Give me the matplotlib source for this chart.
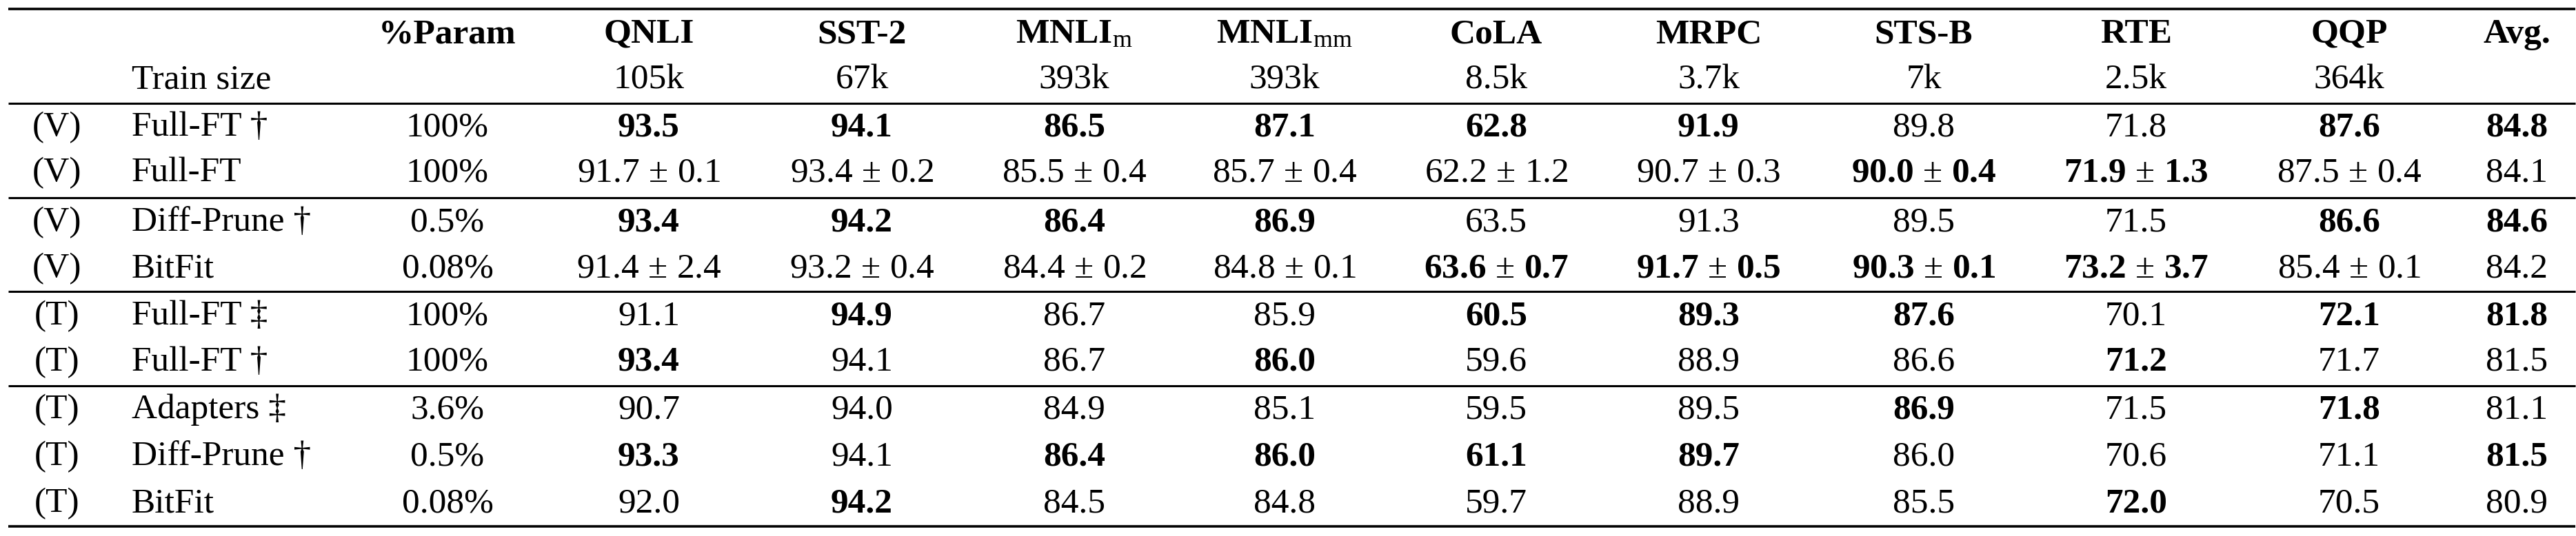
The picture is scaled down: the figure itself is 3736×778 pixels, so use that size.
import matplotlib
matplotlib.use("Agg")
import matplotlib.pyplot as plt

### data
tasks = ["QNLI", "SST-2", r"$\mathbf{MNLI}_{\mathrm{m}}$", r"$\mathbf{MNLI}_{\mathrm{mm}}$",
         "CoLA", "MRPC", "STS-B", "RTE", "QQP"]
train_sizes = ["105k", "67k", "393k", "393k", "8.5k", "3.7k", "7k", "2.5k", "364k"]

setting = ["(V)", "(V)", "(V)", "(V)", "(T)", "(T)", "(T)", "(T)", "(T)"]
methods = ["Full-FT \u2020", "Full-FT", "Diff-Prune \u2020", "BitFit",
           "Full-FT \u2021", "Full-FT \u2020", "Adapters \u2021", "Diff-Prune \u2020", "BitFit"]
params = ["100%", "100%", "0.5%", "0.08%", "100%", "100%", "3.6%", "0.5%", "0.08%"]

scores = [
    [93.5, 94.1, 86.5, 87.1, 62.8, 91.9, 89.8, 71.8, 87.6],
    [91.7, 93.4, 85.5, 85.7, 62.2, 90.7, 90.0, 71.9, 87.5],
    [93.4, 94.2, 86.4, 86.9, 63.5, 91.3, 89.5, 71.5, 86.6],
    [91.4, 93.2, 84.4, 84.8, 63.6, 91.7, 90.3, 73.2, 85.4],
    [91.1, 94.9, 86.7, 85.9, 60.5, 89.3, 87.6, 70.1, 72.1],
    [93.4, 94.1, 86.7, 86.0, 59.6, 88.9, 86.6, 71.2, 71.7],
    [90.7, 94.0, 84.9, 85.1, 59.5, 89.5, 86.9, 71.5, 71.8],
    [93.3, 94.1, 86.4, 86.0, 61.1, 89.7, 86.0, 70.6, 71.1],
    [92.0, 94.2, 84.5, 84.8, 59.7, 88.9, 85.5, 72.0, 70.5],
]
stds = [
    None,
    [0.1, 0.2, 0.4, 0.4, 1.2, 0.3, 0.4, 1.3, 0.4],
    None,
    [2.4, 0.4, 0.2, 0.1, 0.7, 0.5, 0.1, 3.7, 0.1],
    None, None, None, None, None,
]
bold = [
    [1, 1, 1, 1, 1, 1, 0, 0, 1],
    [0, 0, 0, 0, 0, 0, 1, 1, 0],
    [1, 1, 1, 1, 0, 0, 0, 0, 1],
    [0, 0, 0, 0, 1, 1, 1, 1, 0],
    [0, 1, 0, 0, 1, 1, 1, 0, 1],
    [1, 0, 0, 1, 0, 0, 0, 1, 0],
    [0, 0, 0, 0, 0, 0, 1, 0, 1],
    [1, 0, 1, 1, 1, 1, 0, 0, 0],
    [0, 1, 0, 0, 0, 0, 0, 1, 0],
]
avg = [84.8, 84.1, 84.6, 84.2, 81.8, 81.5, 81.1, 81.5, 80.9]
avg_bold = [1, 0, 1, 0, 1, 0, 0, 1, 0]

### layout (pixels)
W, H = 3737, 778
x_set = 83
x_meth = 191
x_param = 649
x_tasks = [941, 1250, 1558, 1863, 2170, 2478, 2790, 3098, 3407]
x_avg = 3650
y_head = [62, 128]
y_rows = [197, 263, 335, 402, 471, 538, 607, 675, 743]
rules = [(13, 2.6), (150, 2.2), (287, 2.2), (423, 2.2), (560, 2.2), (764, 2.6)]

plt.rcParams["font.family"] = ["Liberation Serif", "DejaVu Serif"]
plt.rcParams["mathtext.fontset"] = "custom"
plt.rcParams["mathtext.rm"] = "Liberation Serif"
plt.rcParams["mathtext.it"] = "Liberation Serif:italic"
plt.rcParams["mathtext.bf"] = "Liberation Serif:bold"
fs = 37

fig = plt.figure(figsize=(W / 100, H / 100), dpi=100)
ax = fig.add_axes([0, 0, 1, 1])
ax.set_xlim(0, W)
ax.set_ylim(H, 0)
ax.axis("off")

for y, lw in rules:
    ax.plot([12, W - 2], [y, y], color="black", lw=lw, solid_capstyle="butt")

# header
ax.text(x_param, y_head[0], "%Param", fontsize=fs, fontweight="bold", ha="center", va="baseline")
for x, t in zip(x_tasks, tasks):
    ax.text(x, y_head[0], t, fontsize=fs, fontweight="bold", ha="center", va="baseline")
ax.text(x_avg, y_head[0], "Avg.", fontsize=fs, fontweight="bold", ha="center", va="baseline")
ax.text(x_meth, y_head[1], "Train size", fontsize=fs, ha="left", va="baseline")
for x, t in zip(x_tasks, train_sizes):
    ax.text(x, y_head[1], t, fontsize=fs, ha="center", va="baseline")

# body
for i, y in enumerate(y_rows):
    ax.text(x_set, y, setting[i], fontsize=fs, ha="center", va="baseline")
    ax.text(x_meth, y, methods[i], fontsize=fs, ha="left", va="baseline")
    ax.text(x_param, y, params[i], fontsize=fs, ha="center", va="baseline")
    for j, x in enumerate(x_tasks):
        v = scores[i][j]
        b = bold[i][j]
        if stds[i] is not None:
            s = stds[i][j]
            if b:
                txt = r"$\mathbf{%.1f}\,\pm\,\mathbf{%.1f}$" % (v, s)
            else:
                txt = r"$\mathrm{%.1f}\,\pm\,\mathrm{%.1f}$" % (v, s)
            ax.text(x, y, txt, fontsize=fs, ha="center", va="baseline")
        else:
            ax.text(x, y, "%.1f" % v, fontsize=fs, fontweight="bold" if b else "normal",
                    ha="center", va="baseline")
    ax.text(x_avg, y, "%.1f" % avg[i], fontsize=fs,
            fontweight="bold" if avg_bold[i] else "normal", ha="center", va="baseline")

fig.savefig("out.png", dpi=100, facecolor="white")
